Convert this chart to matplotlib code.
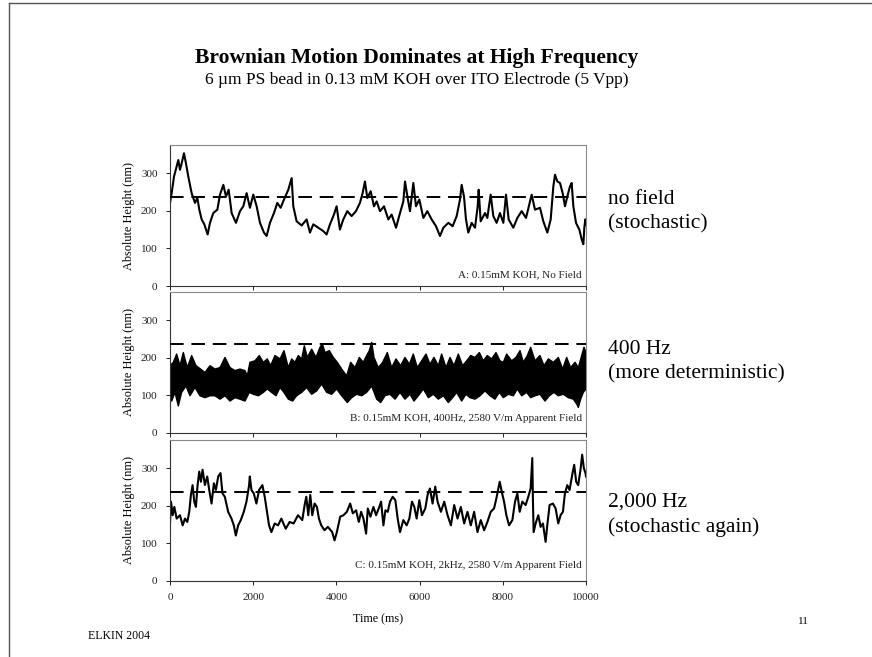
import numpy as np
import matplotlib
matplotlib.use("Agg")
import matplotlib.pyplot as plt
from matplotlib.lines import Line2D

plt.rcParams['font.family'] = ['Liberation Serif', 'DejaVu Serif']

# panel A: no field
t_a = [0, 40, 96, 160, 200, 240, 280, 336, 384, 440, 520, 600, 657, 705, 761, 825, 905, 961,
       1041, 1138, 1202, 1282, 1346, 1410, 1482, 1586, 1682, 1762, 1842, 1922, 2002, 2083, 2163,
       2259, 2323, 2403, 2499, 2579, 2660, 2740, 2844, 2924, 2964, 3044, 3164, 3284, 3364, 3444,
       3565, 3685, 3765, 3845, 3941, 4005, 4085, 4165, 4262, 4366, 4470, 4566, 4630, 4686, 4743,
       4823, 4903, 4967, 5048, 5144, 5248, 5328, 5433, 5529, 5609, 5649, 5713, 5769, 5849, 5913,
       5993, 6090, 6186, 6290, 6394, 6490, 6571, 6691, 6795, 6891, 6971, 7011, 7067, 7115, 7171,
       7251, 7332, 7396, 7420, 7468, 7572, 7628, 7708, 7772, 7852, 7932, 8013, 8077, 8141, 8253,
       8349, 8454, 8558, 8694, 8774, 8894, 8974, 9071, 9151, 9215, 9255, 9311, 9375, 9439, 9495,
       9551, 9615, 9655, 9696, 9760, 9840, 9896, 9936, 9960, 9984, 10000]
h_a = [221, 247, 291, 318, 335, 309, 326, 353, 326, 291, 247, 221, 234, 203, 177, 164, 137, 168,
       194, 203, 243, 269, 238, 256, 194, 168, 199, 212, 247, 208, 243, 212, 168,
       142, 133, 168, 194, 221, 208, 230, 256, 287, 212, 172, 161, 177, 142, 164,
       155, 146, 137, 164, 190, 212, 150, 177, 199, 186, 199, 221, 247, 278, 234,
       252, 212, 225, 199, 212, 177, 190, 155, 194, 225, 278, 234, 199, 274, 212,
       230, 181, 199, 177, 159, 133, 155, 168, 159, 186, 230, 269, 238, 177, 142,
       168, 155, 212, 256, 172, 194, 181, 243, 186, 168, 194, 168, 243, 177, 155,
       181, 199, 181, 243, 203, 208, 172, 142, 177, 265, 296, 278, 274, 247, 212,
       238, 265, 274, 212, 168, 150, 124, 111, 155, 177, 164]

# panel B: 400 Hz, upper and lower edge of the dense band
t_b_up = [0, 80, 160, 240, 320, 416, 520, 625, 737, 841, 961, 1081, 1202, 1322, 1442, 1562, 1682,
          1802, 1858, 1922, 2042, 2147, 2243, 2339, 2419, 2523, 2644, 2740, 2844, 2924, 3004, 3085,
          3165, 3229, 3301, 3405, 3510, 3606, 3662, 3726, 3830, 3926, 4022, 4127, 4247, 4343, 4447,
          4551, 4647, 4727, 4791, 4848, 4904, 5008, 5112, 5224, 5328, 5433, 5545, 5649, 5753, 5849,
          5945, 6050, 6154, 6250, 6346, 6450, 6530, 6635, 6731, 6827, 6931, 7035, 7131, 7228, 7332,
          7436, 7532, 7628, 7732, 7836, 7932, 8013, 8093, 8213, 8317, 8413, 8494, 8590, 8670, 8774,
          8894, 8990, 9095, 9215, 9335, 9439, 9535, 9631, 9736, 9816, 9896, 9952, 10000]
h_b_up = [179, 188, 210, 179, 214, 174, 206, 179, 170, 161, 179, 170, 174, 201, 174, 166, 170,
          166, 152, 188, 192, 206, 188, 197, 179, 206, 197, 219, 174, 197, 188, 206,
          197, 232, 201, 223, 201, 228, 237, 214, 219, 201, 188, 170, 152, 188, 174,
          201, 188, 206, 219, 241, 201, 174, 188, 214, 174, 197, 179, 201, 183, 210,
          174, 192, 210, 183, 201, 179, 210, 174, 201, 179, 210, 179, 192, 206, 201,
          214, 192, 206, 197, 214, 192, 188, 210, 192, 201, 219, 188, 206, 228, 192,
          206, 179, 197, 188, 201, 170, 201, 174, 188, 174, 206, 228, 214]
t_b_lo = [0, 40, 120, 200, 280, 385, 481, 601, 721, 841, 961, 1081, 1202, 1322, 1442, 1562, 1682,
          1802, 1907, 2003, 2123, 2243, 2339, 2443, 2548, 2644, 2740, 2844, 2948, 3044, 3165, 3285,
          3405, 3525, 3646, 3766, 3886, 4006, 4127, 4263, 4367, 4487, 4607, 4727, 4848, 4968, 5064,
          5168, 5288, 5409, 5529, 5649, 5769, 5865, 5969, 6090, 6210, 6330, 6450, 6571, 6691, 6795,
          6891, 7011, 7115, 7212, 7332, 7452, 7572, 7692, 7812, 7917, 8013, 8133, 8253, 8349, 8454,
          8574, 8670, 8774, 8894, 9015, 9119, 9231, 9335, 9455, 9575, 9696, 9776, 9816, 9872, 9936,
          10000]
h_b_lo = [99, 85, 108, 72, 108, 125, 99, 121, 99, 94, 99, 99, 90, 99, 85, 94, 90,
          85, 108, 103, 99, 108, 117, 108, 99, 121, 108, 90, 85, 99, 108, 121,
          103, 112, 130, 108, 103, 117, 99, 81, 94, 103, 99, 108, 125, 90, 81,
          99, 103, 90, 108, 90, 103, 85, 99, 117, 94, 103, 90, 99, 81, 94,
          108, 85, 103, 94, 90, 99, 112, 99, 90, 108, 94, 103, 99, 117, 99,
          108, 94, 99, 103, 85, 99, 108, 99, 103, 94, 90, 77, 68, 90, 108,
          117]

# panel C: 2 kHz
t_c = [0, 24, 64, 104, 160, 240, 304, 360, 416, 463, 503, 543, 583, 623, 663, 703, 743, 783, 839,
       895, 943, 999, 1055, 1103, 1159, 1214, 1262, 1318, 1398, 1478, 1534, 1582, 1638, 1702, 1774,
       1838, 1902, 1918, 1958, 2014, 2077, 2141, 2221, 2277, 2333, 2381, 2437, 2517, 2597, 2677,
       2781, 2876, 2972, 3076, 3180, 3236, 3276, 3324, 3372, 3420, 3476, 3532, 3580, 3636, 3715,
       3795, 3899, 3955, 4011, 4091, 4171, 4251, 4331, 4395, 4474, 4538, 4594, 4650, 4714, 4754,
       4818, 4890, 4954, 5018, 5074, 5130, 5178, 5234, 5289, 5353, 5417, 5473, 5529, 5609, 5689,
       5753, 5817, 5873, 5929, 5993, 6057, 6137, 6192, 6248, 6312, 6376, 6432, 6512, 6592, 6672,
       6752, 6832, 6912, 6991, 7071, 7151, 7231, 7311, 7391, 7471, 7551, 7630, 7710, 7790, 7846,
       7894, 7926, 7974, 8030, 8086, 8150, 8230, 8294, 8350, 8406, 8469, 8549, 8613, 8669, 8709,
       8725, 8741, 8789, 8853, 8909, 8965, 9029, 9069, 9125, 9205, 9269, 9333, 9389, 9445, 9493,
       9549, 9605, 9668, 9716, 9764, 9812, 9868, 9908, 9948, 9988, 10000]
h_c = [153, 211, 175, 197, 166, 175, 148, 166, 157, 184, 229, 255, 211, 197, 255, 291, 264, 296, 255,
       278, 242, 206, 260, 242, 278, 287, 233, 224, 184, 166, 148, 121, 148, 162, 184,
       211, 255, 278, 242, 233, 206, 242, 255, 224, 184, 148, 130, 153, 148, 166,
       139, 157, 153, 175, 162, 202, 224, 175, 229, 175, 206, 197, 166, 148, 135,
       144, 130, 108, 130, 171, 175, 184, 206, 180, 188, 157, 184, 166, 126, 193,
       171, 197, 175, 193, 211, 148, 188, 184, 211, 224, 215, 166, 130, 162, 148,
       166, 211, 197, 166, 215, 175, 193, 229, 246, 206, 251, 211, 184, 211, 175,
       148, 202, 166, 197, 153, 184, 148, 184, 130, 162, 135, 157, 184, 193, 220,
       246, 264, 238, 211, 175, 148, 162, 211, 233, 184, 211, 202, 224, 246, 327,
       211, 130, 153, 175, 144, 153, 104, 148, 202, 206, 193, 153, 175, 184, 233,
       255, 242, 282, 309, 264, 255, 296, 336, 300, 287, 278]

ref_height = 237
panel_notes = ["A: 0.15mM KOH, No Field",
               "B: 0.15mM KOH, 400Hz, 2580 V/m Apparent Field",
               "C: 0.15mM KOH, 2kHz, 2580 V/m Apparent Field"]
side_notes = ["no field\n(stochastic)", "400 Hz\n(more deterministic)", "2,000 Hz\n(stochastic again)"]
x_ticks = [0, 2000, 4000, 6000, 8000, 10000]
y_ticks = [0, 100, 200, 300]

fig = plt.figure(figsize=(8.72, 6.57), dpi=100)
W, H = 872, 657

left, width = 170 / W, 416 / W
tops = [145, 292, 440]
bottoms = [286, 433, 581]
note_y = [0.08, 0.105, 0.11]
axes = []
for i in range(3):
    ax = fig.add_axes([left, 1 - bottoms[i] / H, width, (bottoms[i] - tops[i]) / H])
    axes.append(ax)
    ax.set_xlim(0, 10000)
    ax.set_ylim(0, 375)
    ax.set_xticks(x_ticks)
    ax.set_yticks(y_ticks)
    ax.tick_params(direction='out', length=3, width=0.7, labelsize=8, colors='#222222', pad=6)
    for s in ['top', 'right']:
        ax.spines[s].set_color('#888888')
        ax.spines[s].set_linewidth(0.8)
    for s in ['left', 'bottom']:
        ax.spines[s].set_color('#333333')
        ax.spines[s].set_linewidth(0.8)
    ax.set_ylabel('Absolute Height (nm)', fontsize=8.8, labelpad=4)
    ax.axhline(ref_height, color='black', lw=1.4, dashes=(7, 4), zorder=3)
    ax.text(0.99, note_y[i], panel_notes[i], transform=ax.transAxes, ha='right', va='center',
            fontsize=8, color='#222222')
    if i < 2:
        ax.tick_params(labelbottom=False)

axes[0].plot(t_a, h_a, color='black', lw=1.5)

band_t = np.concatenate([t_b_up, t_b_lo[::-1]])
band_h = np.concatenate([h_b_up, h_b_lo[::-1]])
axes[1].fill(band_t, band_h, color='black', lw=0)
axes[1].plot(t_b_up, h_b_up, color='black', lw=1.0)
axes[1].plot(t_b_lo, h_b_lo, color='black', lw=1.0)

axes[2].plot(t_c, h_c, color='black', lw=1.5)
axes[2].set_xlabel('Time (ms)', fontsize=8.7, labelpad=8)

fig.text(417 / W, 1 - 58 / H, 'Brownian Motion Dominates at High Frequency',
         ha='center', va='center', fontsize=15.5, fontweight='bold')
fig.text(417 / W, 1 - 80 / H, '6 \u00b5m PS bead in 0.13 mM KOH over ITO Electrode (5 Vpp)',
         ha='center', va='center', fontsize=12.5)

side_y = [212, 362, 515]
for y, s in zip(side_y, side_notes):
    fig.text(608 / W, 1 - y / H, s, ha='left', va='center', fontsize=15.5, linespacing=1.4)

fig.text(88 / W, 1 - 636 / H, 'ELKIN 2004', ha='left', va='center', fontsize=8.5)
fig.text(803 / W, 1 - 622 / H, '11', ha='center', va='center', fontsize=8)

# slide border
fig.add_artist(Line2D([9 / W, 9 / W], [0, 1 - 3 / H], color='#555555', lw=1))
fig.add_artist(Line2D([9 / W, 1], [1 - 3 / H, 1 - 3 / H], color='#555555', lw=1))

fig.savefig('out.png', dpi=100, facecolor='white')
